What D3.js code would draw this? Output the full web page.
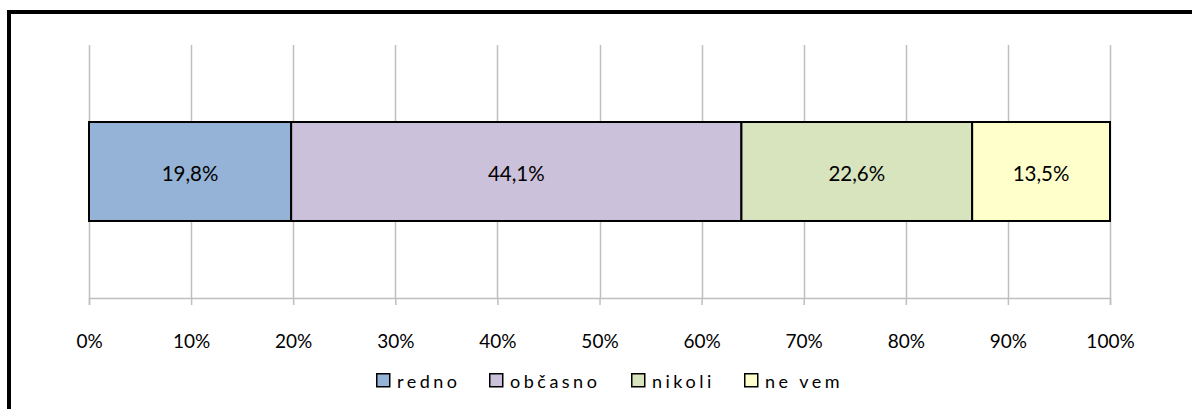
<!DOCTYPE html>
<html><head><meta charset="utf-8">
<script src="https://cdn.jsdelivr.net/npm/d3@7"></script>
<style>body{margin:0;background:#fff}svg{display:block}</style>
</head><body>
<svg id="c" width="1192" height="409"></svg>
<script>
const categories = ["redno", "občasno", "nikoli", "ne vem"];
const values = [19.8, 44.1, 22.6, 13.5];
const valueLabels = ["19,8%", "44,1%", "22,6%", "13,5%"];
const colors = ["#95b3d7", "#ccc1da", "#d7e4bd", "#ffffcc"];
const tickValues = [0, 10, 20, 30, 40, 50, 60, 70, 80, 90, 100];
const tickLabels = ["0%", "10%", "20%", "30%", "40%", "50%", "60%", "70%", "80%", "90%", "100%"];

const svg = d3.select("#c");
const font = "Lato, 'Open Sans', sans-serif";
// frame
svg.append("line").attr("x1", 7).attr("x2", 1192).attr("y1", 12).attr("y2", 12).attr("stroke", "#000").attr("stroke-width", 4);
svg.append("line").attr("x1", 9).attr("x2", 9).attr("y1", 10).attr("y2", 409).attr("stroke", "#000").attr("stroke-width", 4);

const x = d3.scaleLinear().domain([0, 100]).range([89, 1110]);
const yTop = 45, yAxis = 298;
const y = d3.scaleBand().domain(["s"]).range([yTop, yAxis]).paddingInner(0).paddingOuter(0.778);

// gridlines
svg.append("g").selectAll("line").data(tickValues).join("line")
  .attr("x1", d => Math.round(x(d)) + 0.5).attr("x2", d => Math.round(x(d)) + 0.5)
  .attr("y1", yTop).attr("y2", yAxis)
  .attr("stroke", "#bfbfbf").attr("stroke-width", 1.5);

// axis
const axis = d3.axisBottom(x).tickValues(tickValues).tickFormat((d, i) => tickLabels[i]).tickSize(7).tickPadding(30);
const ag = svg.append("g").attr("transform", `translate(0,${yAxis})`).call(axis);
ag.select(".domain").attr("stroke", "#bfbfbf").attr("stroke-width", 1.5);
ag.selectAll(".tick line").attr("stroke", "#bfbfbf").attr("stroke-width", 1.5);
ag.selectAll(".tick text").attr("font-family", font).attr("font-size", 19).attr("fill", "#000");

// stacked bars
let cum = 0;
const segs = values.map((v, i) => { const s = {i, x0: cum, x1: cum + v}; cum += v; return s; });
const g = svg.append("g");
g.selectAll("rect").data(segs).join("rect")
  .attr("x", d => x(d.x0)).attr("width", d => x(Math.min(d.x1, 100)) - x(d.x0))
  .attr("y", y("s")).attr("height", y.bandwidth())
  .attr("fill", d => colors[d.i]).attr("stroke", "#000").attr("stroke-width", 2);
g.selectAll("text").data(segs).join("text")
  .attr("x", d => (x(d.x0) + x(Math.min(d.x1, 100))) / 2)
  .attr("y", y("s") + y.bandwidth() / 2 + 9.5)
  .attr("text-anchor", "middle").attr("font-family", font).attr("font-size", 20.5).attr("fill", "#000")
  .text(d => valueLabels[d.i]);

// legend
const legX = [376, 489, 631, 744];
const lg = svg.append("g").selectAll("g").data(categories).join("g")
  .attr("transform", (d, i) => `translate(${legX[i]},373)`);
lg.append("rect").attr("x", 0.75).attr("y", 0.75).attr("width", 13).attr("height", 13)
  .attr("fill", (d, i) => colors[i]).attr("stroke", "#000").attr("stroke-width", 1.5);
lg.append("text").attr("x", 21).attr("y", 15).attr("font-family", font).attr("font-size", 18)
  .attr("letter-spacing", "3.5px").attr("fill", "#000").text(d => d);
</script>
</body></html>
